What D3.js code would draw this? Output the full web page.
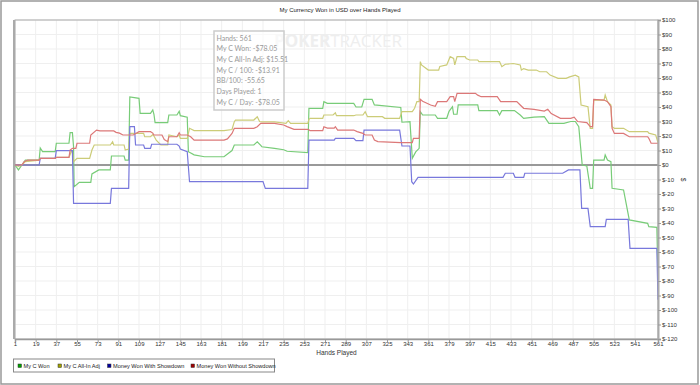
<!DOCTYPE html>
<html>
<head>
<meta charset="utf-8">
<script src="https://cdn.jsdelivr.net/npm/d3@7"></script>
<style>
  body { margin: 0; background: #fff; }
  svg { display: block; font-family: "Liberation Sans", Arial, sans-serif; }
</style>
</head>
<body>
<div id="chart"></div>
<script>
// series: [hand, dollars] breakpoints
const myCWon = [[1,0],[4,-3.4],[7,0],[10,3.4],[22,3.4],[23,11.7],[25,9.2],[36,9.2],[37,15],[48,15],[49,22.3],[51,22.3],[52,12.6],[52.5,-15],[57,-12],[67,-12],[68,-6.2],[74,-3.4],[84,-3.4],[85,6.2],[96,6.2],[97,3.4],[100,3.4],[101,47],[109,46],[110,35.6],[119,35.6],[121,38],[122,35],[123,29.2],[134,29.2],[135,34.5],[142,34.5],[144,37],[145,34],[151,33],[152,9.2],[157,7],[166,5.7],[183,5.7],[190,10],[192,13.8],[209,13.8],[212,16],[215,13.5],[216,12.6],[227,11.5],[235,10.5],[238,9.5],[256,8.5],[257,39.1],[269,39.1],[270,43.7],[273,42.5],[296,42.5],[298,40],[303,40],[305,45.3],[312,45.3],[314,41.4],[337,39.7],[338,29.5],[345,29.9],[347,4.6],[350,9],[353,11.5],[354,36.8],[356,34.5],[367,34.5],[369,32.2],[377,32.2],[379,37],[382,40.2],[383,35],[386,35],[387,41.4],[404,41.4],[405,37.5],[421,37.5],[423,34.5],[425,37.5],[436,37.5],[441,34.5],[444,32.2],[453,33],[462,33.3],[466,28.7],[479,28.7],[485,30],[489,30],[492,26.4],[495,0],[499,-0.7],[502,-16.1],[504,-16.1],[505,3.4],[514,3.4],[515,6.9],[517,3.4],[520,2.3],[521,-16.1],[531,-17.2],[536,-37.9],[552,-40.2],[553,-42.5],[560,-43],[561,-78.05]];

const myCAllInAdj = [[1,0],[4,-1],[7,0],[10,2.3],[22,3.4],[23,4.6],[36,4.6],[37,5.3],[48,5.3],[50,9.2],[51,9.2],[52,2.3],[55,4.6],[66,4.6],[68,10.3],[70,13.8],[84,13.8],[86,16],[87,13.8],[96,13.8],[97,10.3],[100,11],[101,21.8],[113,21.8],[114,19.5],[119,19.5],[121,21],[122,20],[124,17.2],[128,13.8],[134,13.8],[135,20.7],[142,19.5],[144,20.7],[145,18.4],[151,18.4],[153,25.3],[157,23.7],[183,23.7],[190,24.5],[192,29.9],[193,31],[209,31],[212,33.3],[214,30],[216,29.7],[227,29.7],[237,28.7],[239,30.6],[241,28.7],[256,28.7],[257,31.5],[258,32.2],[269,32.2],[270,34.5],[278,34.5],[280,36],[281,34],[296,34],[298,34.5],[304,34.5],[306,36.8],[308,33.3],[321,33.3],[323,32.2],[336,32.2],[338,36.8],[347,36.8],[349,39.1],[351,43.7],[353,43.7],[354,71.3],[355,69],[361,65.5],[370,65.5],[371,68],[377,69],[380,74.7],[383,73.5],[384,69],[386,74.7],[393,74.7],[394,73.5],[397,72.4],[404,72.4],[405,71.3],[423,71.3],[425,67.8],[428,69.5],[435,70],[441,69],[442,65.5],[444,66.5],[448,65.5],[455,65.5],[458,64.3],[464,64.3],[467,62],[474,59.8],[481,59.8],[484,60.8],[489,62],[492,60.8],[494,41.4],[500,40.2],[502,25.3],[504,25.3],[505,44.8],[514,44.8],[515,48.3],[517,43.7],[520,41.4],[521,26.4],[523,25.3],[531,25.3],[536,23],[552,23],[553,22],[559,20.7],[561,15.51]];

const withShowdown = [[1,0],[22,0],[23,4.6],[36,4.6],[37,9.9],[51,9.9],[52,-26.4],[84,-26.4],[85,-16.1],[100,-16.1],[101,26.4],[105,26.4],[106,13.8],[113,13.8],[114,11.5],[119,11.5],[120,14.3],[142,14.3],[144,13],[145,11],[151,9.2],[153,-11.5],[217,-11.5],[219,-16.1],[256,-16.1],[257,17.2],[279,17.2],[280,18.4],[296,18.4],[298,16.8],[304,16.8],[305,24.1],[336,24.1],[338,13.1],[345,13.1],[346.5,-11.5],[348,-13.1],[352,-8.5],[426,-8.5],[428,-5.7],[435,-5.7],[436.5,-8.5],[444,-8.5],[445,-5.7],[478,-5.7],[483,-3.4],[493,-3.4],[494.5,-29.9],[500,-29.9],[502,-42.5],[515,-42.5],[516,-37.5],[535,-37.5],[536.6,-57.5],[560,-57.5],[561,-93]];

const withoutShowdown = [[1,0],[7,0],[9,2.3],[12,3.4],[22,3.4],[23,4.6],[36,4.6],[37,5.3],[48,5.3],[49,10.3],[51,11.5],[54,11.5],[55,15],[66,15],[67,20.7],[72,24.1],[75,23.5],[87,23.5],[89,22.5],[92,22],[95,20.7],[104,20.7],[109,23],[119,23],[121,22],[122,20.7],[129,20.7],[131,17.5],[134,16.1],[135,19.5],[142,19.5],[144,22.3],[145,20.7],[151,20.7],[154,19.5],[157,17.2],[183,17.2],[186,18],[190,21.8],[192,25.3],[209,25.3],[212,26.4],[215,28.7],[227,28.7],[235,27.6],[238,26.5],[244,24.6],[256,24.6],[258,23.7],[269,23.7],[270,26.4],[273,25.5],[279,25.5],[280,26.4],[282,24.1],[296,24.1],[299,23],[304,21.8],[306,20.7],[312,20.7],[314,17.2],[317,16.1],[337,15.5],[347,15.5],[348,18.4],[353,18.4],[354,45.3],[356,44],[363,41.4],[367,40.5],[369,43.7],[377,43.7],[380,47.1],[383,47.1],[384,43.7],[386,49.4],[402,49.4],[404,48.2],[407,47.1],[421,47.1],[424,43.7],[438,43.7],[441,41.4],[444,39.1],[453,38.4],[462,37.2],[465,38.4],[468,35.5],[476,32.2],[485,32.2],[488,33],[491,30],[499,29.2],[502,26.4],[504,26.4],[505,45.3],[514,44.8],[517,43.7],[520,40.2],[521,25.3],[523,21.8],[531,21.8],[536,19.5],[552,19.5],[553,18.4],[555,15],[561,15]];

const seriesNames = ["My C Won", "My C All-In Adj", "Money Won With Showdown", "Money Won Without Showdown"];
const lineColors = ["#78cc78", "#cccc78", "#7878dc", "#dc7878"];
const keyColors = ["#00a000", "#a0a000", "#0000a0", "#a00000"];

const xTicks = d3.range(1, 542, 18).concat([561]);
const yTicks = d3.range(-120, 101, 10);

const tooltipLines = ["Hands: 561", "My C Won: -$78.05", "My C All-In Adj: $15.51", "My C / 100: -$13.91",
  "BB/100: -55.65", "Days Played: 1", "My C / Day: -$78.05"];

const W = 700, H = 385;
const plot = {left: 15, right: 658, top: 20, bottom: 339};

const svg = d3.select("#chart").append("svg")
  .attr("width", W)
  .attr("height", H);

// outer frame
svg.append("rect")
  .attr("x", 1).attr("y", 1)
  .attr("width", 697).attr("height", 383)
  .style("fill", "#fff")
  .style("stroke", "#999")
  .style("stroke-width", 1.5);

svg.append("text")
  .attr("x", 340).attr("y", 12)
  .attr("text-anchor", "middle")
  .style("font-size", "6px")
  .style("fill", "#222")
  .text("My Currency Won in USD over Hands Played");

const x = d3.scaleLinear().domain([1, 561]).range([plot.left, plot.right]);
const y = d3.scaleLinear().domain([-120, 100]).range([plot.bottom, plot.top]);

// grid
svg.append("g")
  .selectAll("line")
  .data(xTicks)
  .enter().append("line")
  .attr("x1", d => x(d)).attr("x2", d => x(d))
  .attr("y1", plot.top).attr("y2", plot.bottom)
  .style("stroke", "#efefef");

svg.append("g")
  .selectAll("line")
  .data(yTicks)
  .enter().append("line")
  .attr("x1", plot.left).attr("x2", plot.right)
  .attr("y1", d => y(d)).attr("y2", d => y(d))
  .style("stroke", "#efefef");

// watermark
const mark = svg.append("text")
  .attr("x", 274).attr("y", 47)
  .style("font-family", "'Open Sans', sans-serif")
  .style("font-size", "17px")
  .style("fill", "#eeeeee");
mark.append("tspan").style("font-weight", "bold").text("POKER");
mark.append("tspan").text("TRACKER");

// plot frame
svg.append("rect")
  .attr("x", plot.left).attr("y", plot.top)
  .attr("width", plot.right - plot.left).attr("height", plot.bottom - plot.top)
  .style("fill", "none")
  .style("stroke", "#aaa");

svg.append("line")
  .attr("x1", plot.left - 1).attr("x2", plot.left - 1)
  .attr("y1", plot.top).attr("y2", plot.bottom)
  .style("stroke", "#aaa").style("stroke-width", 2);

// zero line
svg.append("line")
  .attr("x1", plot.left).attr("x2", plot.right)
  .attr("y1", y(0)).attr("y2", y(0))
  .style("stroke", "#999").style("stroke-width", 2);

// tooltip box
const tip = svg.append("g").attr("transform", "translate(214,31)");
tip.append("rect")
  .attr("width", 70).attr("height", 79)
  .style("fill", "#fff").style("fill-opacity", 0.6)
  .style("stroke", "#ccc").style("stroke-width", 1.5);
tip.selectAll("text")
  .data(tooltipLines)
  .enter().append("text")
  .attr("x", 2.5)
  .attr("y", (d, i) => 9.5 + i * 10.7)
  .style("font-family", "Lato, 'Open Sans', sans-serif")
  .style("font-size", "7px")
  .style("fill", "#999")
  .text(d => d);

// series lines
const line = d3.line().x(d => x(d[0])).y(d => y(d[1]));

svg.append("g")
  .attr("class", "lines")
  .selectAll("path")
  .data([myCWon, myCAllInAdj, withShowdown, withoutShowdown])
  .enter().append("path")
  .attr("d", line)
  .style("fill", "none")
  .style("stroke", (d, i) => lineColors[i])
  .style("stroke-width", 1.2);

// axes
const xAxis = d3.axisBottom(x)
  .tickValues(xTicks)
  .tickSize(3)
  .tickFormat(d3.format("d"));

const yAxis = d3.axisRight(y)
  .tickValues(yTicks)
  .tickSize(3)
  .tickFormat(d => "$" + d);

svg.append("g")
  .attr("class", "x axis")
  .attr("transform", "translate(0," + plot.bottom + ")")
  .call(xAxis)
  .call(g => g.select(".domain").style("stroke", "#999").style("stroke-width", 1.5))
  .call(g => g.selectAll(".tick line").style("stroke", "#999"))
  .call(g => g.selectAll(".tick text").attr("y", 3).style("font-size", "6px").style("fill", "#333"));

svg.append("g")
  .attr("class", "y axis")
  .attr("transform", "translate(" + plot.right + ",0)")
  .call(yAxis)
  .call(g => g.select(".domain").style("stroke", "#aaa").style("stroke-width", 2))
  .call(g => g.selectAll(".tick line").style("stroke", "#999"))
  .call(g => g.selectAll(".tick text").attr("x", 4).style("font-size", "6px").style("fill", "#333"));

svg.append("text")
  .attr("x", (plot.left + plot.right) / 2).attr("y", 355)
  .attr("text-anchor", "middle")
  .style("font-size", "6.5px")
  .style("fill", "#333")
  .text("Hands Played");

svg.append("text")
  .attr("transform", "translate(681," + (plot.top + plot.bottom) / 2 + ") rotate(90)")
  .attr("text-anchor", "middle")
  .style("font-size", "6.5px")
  .style("fill", "#333")
  .text("$");

// legend
const legendX = [18, 58, 107.5, 191];
const legend = svg.append("g");
legend.append("rect")
  .attr("x", 13.5).attr("y", 359)
  .attr("width", 261).attr("height", 13)
  .style("fill", "#fff")
  .style("stroke", "#888");

const items = legend.selectAll("g")
  .data(seriesNames)
  .enter().append("g")
  .attr("transform", (d, i) => "translate(" + legendX[i] + ",364)");

items.append("rect")
  .attr("width", 3.5).attr("height", 3.5)
  .style("fill", (d, i) => keyColors[i])
  .style("stroke", "#333")
  .style("stroke-width", 0.5);

items.append("text")
  .attr("x", 5.5).attr("y", 3.8)
  .style("font-size", "5.6px")
  .style("fill", "#222")
  .text(d => d);
</script>
</body>
</html>
